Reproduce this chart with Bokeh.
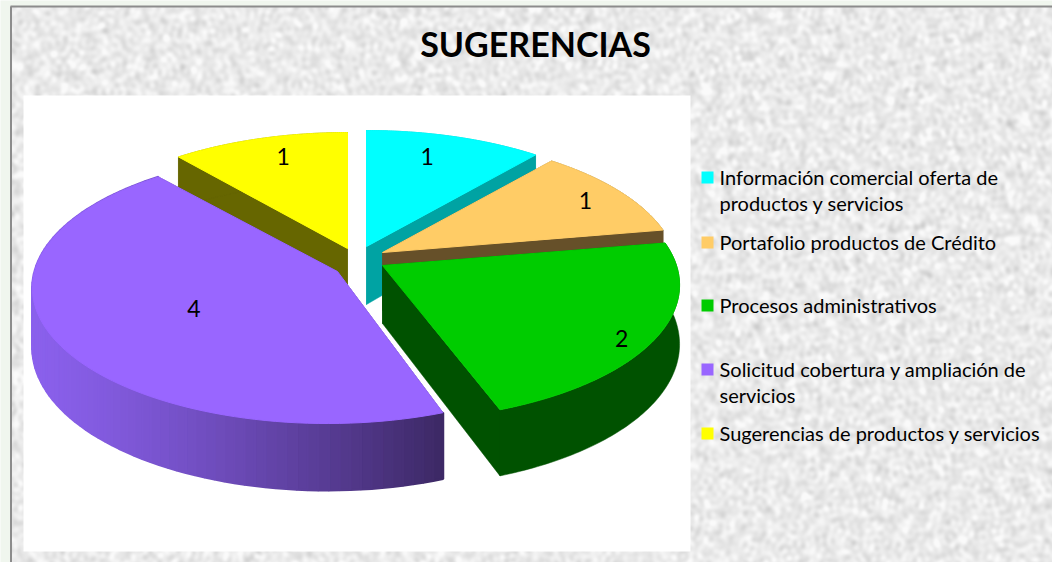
from bokeh.plotting import figure
from bokeh.models import Range1d
from bokeh.core.properties import value
from bokeh.embed import file_html
from bokeh.resources import INLINE
import numpy as np

# ---- data ----
title_text = "SUGERENCIAS"
categories = ["Información comercial oferta de productos y servicios",
              "Portafolio productos de Crédito",
              "Procesos administrativos",
              "Solicitud cobertura y ampliación de servicios",
              "Sugerencias de productos y servicios"]
values = [1, 1, 2, 4, 1]
legend_lines = [["Información comercial oferta de", "productos y servicios"],
                ["Portafolio productos de Crédito"],
                ["Procesos administrativos"],
                ["Solicitud cobertura y ampliación de", "servicios"],
                ["Sugerencias de productos y servicios"]]

# ---- style / layout ----
top_colors = ["#00ffff", "#ffcc66", "#00cc00", "#9966ff", "#ffff00"]
side_colors = ["#00a3a3", "#665029", "#005200", "#3d2966", "#666600"]
apex = [(366, 246), (382, 252), (384, 265), (327, 268), (347, 248)]   # rim centres of exploded slices
vertex = [(366, 246), (382, 252), (382, 265), (337, 271), (347, 248)] # inner corners of the slices
label_frac = [(0.69, 0.82), (0.86, 0.84), (0.87, 1.02), (0.49, 0.56), (0.73, 0.84)]
legend_y = [177, 242, 305, 369, 433]
A, B, Q, DEPTH = 292.0, 132.7, 0.144, 58.0
FONT = value("Lato")
W, H = 1052, 562


def project(theta):
    s = 1 + Q * np.cos(theta)
    return A * np.sin(theta) / s, -B * np.cos(theta) / s


def depth(theta):
    return DEPTH * (1 - 0.15 * np.cos(theta))


def mix(c1, c2, t):
    a = [int(c1[i:i + 2], 16) for i in (1, 3, 5)]
    b = [int(c2[i:i + 2], 16) for i in (1, 3, 5)]
    return "#%02x%02x%02x" % tuple(round(a[i] + (b[i] - a[i]) * t) for i in range(3))


def paper_texture(w, h):
    """Mottled paper look, a deterministic sum of waves (decoration only)."""
    yy, xx = np.mgrid[0:h, 0:w]
    g = np.zeros((h, w))
    for k in range(1, 260):
        ang = (k * k * 0.7391) % (2 * np.pi)
        lam = 7 + 26 * ((k * k * 0.4142 + k * 0.618034) % 1) ** 1.5
        ph = (k * k * 1.3247) % (2 * np.pi)
        g += np.sin(2 * np.pi * (xx * np.cos(ang) + yy * np.sin(ang)) / lam + ph)
    g = g / g.std()
    v = np.clip(235 + 7 * g, 200, 250).astype(np.uint32)
    return (np.uint32(255) << 24) | (v << 16) | (v << 8) | v


p = figure(width=W, height=H, x_range=Range1d(0, W), y_range=Range1d(H, 0),
           toolbar_location=None, output_backend="svg", min_border=0,
           background_fill_color="#f0f6ee", border_fill_color="#f0f6ee")
p.axis.visible = False
p.grid.visible = False
p.outline_line_color = None

# backdrop
p.image_rgba(image=[paper_texture(W - 10, H - 6)], x=[10], y=[6], dw=[W - 10], dh=[H - 6])
p.segment([10.5], [6], [10.5], [H], line_color="#8c8c8c", line_width=2)
p.segment([10], [6], [W], [6], line_color="#8c8c8c", line_width=2)
p.quad(left=[23], right=[690], top=[95], bottom=[551], fill_color="#ffffff", line_color=None)

# title
p.text([535], [43], text=[title_text], text_font=FONT, text_font_style="bold",
       text_font_size="34px", text_align="center", text_baseline="middle", text_color="#000000")

# pie
total = sum(values)
edges = np.cumsum([0] + values) / total * 2 * np.pi
order = [4, 0, 1, 2, 3]
for i in order:
    t0, t1 = edges[i], edges[i + 1]
    ax, ay = apex[i]
    vx, vy = vertex[i]
    ths = np.linspace(t0, t1, 90)
    px, py = project(ths)
    rx, ry = ax + px, ay + py
    # radial faces
    for t, ex, ey in ((t0, rx[0], ry[0]), (t1, rx[-1], ry[-1])):
        p.patch([vx, ex, ex, vx], [vy, ey, ey + depth(t), vy + DEPTH],
                fill_color=side_colors[i], line_color=side_colors[i], line_width=0.5)
    # outer wall
    if i == 3:  # purple wall has a horizontal gradient
        for k in range(len(ths) - 1):
            f = np.clip((rx[k] - 33) / (443 - 33), 0, 1)
            col = mix("#8a60ec", "#3d2966", f ** 1.3)
            p.patch([rx[k], rx[k + 1], rx[k + 1], rx[k]],
                    [ry[k], ry[k + 1], ry[k + 1] + depth(ths[k + 1]), ry[k] + depth(ths[k])],
                    fill_color=col, line_color=col, line_width=2.5)
    else:
        xs = np.concatenate([rx, rx[::-1]])
        ys = np.concatenate([ry, (ry + depth(ths))[::-1]])
        p.patch(xs, ys, fill_color=side_colors[i], line_color=side_colors[i], line_width=0.5)
    # top face
    p.patch(np.concatenate([[vx], rx]), np.concatenate([[vy], ry]),
            fill_color=top_colors[i], line_color=top_colors[i], line_width=1)

# data labels
for i, v in enumerate(values):
    mid = (edges[i] + edges[i + 1]) / 2
    lx, ly = project(mid)
    p.text([apex[i][0] + lx * label_frac[i][0]], [apex[i][1] + ly * label_frac[i][1]], text=[str(v)],
           text_font=FONT, text_font_size="23px", text_align="center", text_baseline="middle",
           text_color="#000000")

# legend
for i, lines in enumerate(legend_lines):
    y = legend_y[i]
    p.quad(left=[701], right=[713], top=[y - 6], bottom=[y + 6], fill_color=top_colors[i], line_color=None)
    for j, line in enumerate(lines):
        p.text([719], [y - 1 + j * 26.5], text=[line], text_font=FONT, text_font_size="20px",
               text_align="left", text_baseline="middle", text_color="#000000")

open("out.html", "w").write(file_html(p, INLINE))
